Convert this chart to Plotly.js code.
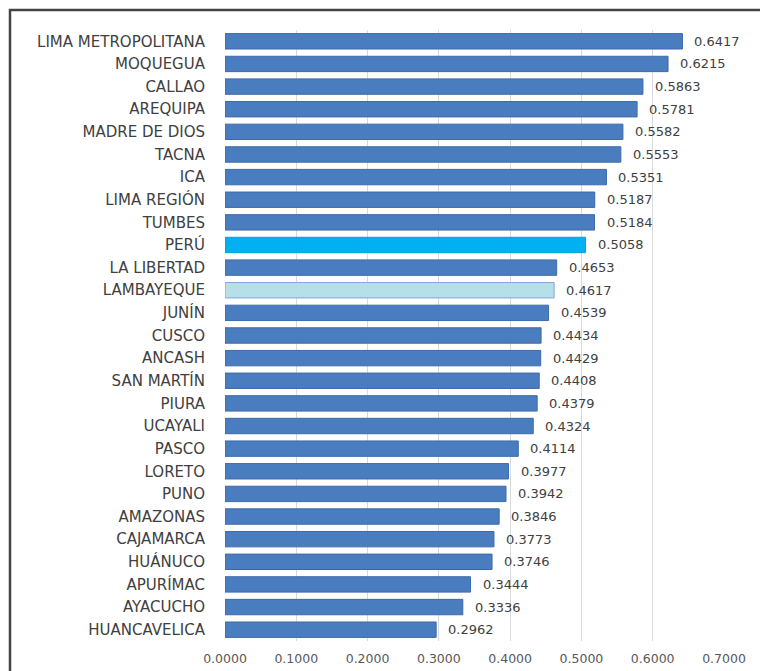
<!DOCTYPE html>
<html>
<head>
<meta charset="utf-8">
<script src="https://cdn.plot.ly/plotly-3.0.1.min.js"></script>
<style>
html,body{margin:0;padding:0;background:#fff;}
#chart{width:760px;height:671px;}
</style>
</head>
<body>
<div id="chart"></div>
<script>
const regions = ["LIMA METROPOLITANA","MOQUEGUA","CALLAO","AREQUIPA","MADRE DE DIOS","TACNA","ICA","LIMA REGIÓN","TUMBES","PERÚ","LA LIBERTAD","LAMBAYEQUE","JUNÍN","CUSCO","ANCASH","SAN MARTÍN","PIURA","UCAYALI","PASCO","LORETO","PUNO","AMAZONAS","CAJAMARCA","HUÁNUCO","APURÍMAC","AYACUCHO","HUANCAVELICA"];
const values = [0.6417,0.6215,0.5863,0.5781,0.5582,0.5553,0.5351,0.5187,0.5184,0.5058,0.4653,0.4617,0.4539,0.4434,0.4429,0.4408,0.4379,0.4324,0.4114,0.3977,0.3942,0.3846,0.3773,0.3746,0.3444,0.3336,0.2962];
const xTicks = [0,0.1,0.2,0.3,0.4,0.5,0.6,0.7];
const xTickLabels = ["0.0000","0.1000","0.2000","0.3000","0.4000","0.5000","0.6000","0.7000"];

const FONT = "'DejaVu Sans', Verdana, sans-serif";
const colors = regions.map(r => r === "PERÚ" ? "#00b0f0" : (r === "LAMBAYEQUE" ? "#b7dfea" : "#4a7dbf"));
const lineColors = regions.map(r => r === "PERÚ" ? "#00a2de" : (r === "LAMBAYEQUE" ? "#7fa9d4" : "#3d6aa8"));

const trace = {
  type: "bar",
  orientation: "h",
  y: regions,
  x: values,
  marker: {color: colors, line: {color: lineColors, width: 1}},
  hoverinfo: "none"
};

const annotations = regions.map((r, i) => ({
  x: values[i], y: r, xref: "x", yref: "y",
  text: values[i].toFixed(4),
  showarrow: false, xanchor: "left", yanchor: "middle",
  xshift: 10,
  font: {family: FONT, size: 13, color: "#404040"}
}));

const layout = {
  width: 760, height: 671,
  margin: {l: 225, r: 36, t: 30, b: 30},
  paper_bgcolor: "#ffffff",
  plot_bgcolor: "#ffffff",
  bargap: 0.32,
  showlegend: false,
  font: {family: FONT, color: "#404040"},
  xaxis: {
    range: [0, 0.7],
    tickvals: xTicks,
    ticktext: xTickLabels,
    showgrid: true,
    gridcolor: "#d9d9d9",
    gridwidth: 1,
    zeroline: false,
    showline: false,
    ticks: "",
    ticklabelstandoff: 8,
    tickfont: {family: FONT, size: 12.5, color: "#595959"},
    fixedrange: true
  },
  yaxis: {
    autorange: "reversed",
    type: "category",
    showgrid: false,
    zeroline: false,
    showline: false,
    ticks: "",
    ticklabelstandoff: 19,
    tickfont: {family: FONT, size: 15, color: "#404040"},
    fixedrange: true
  },
  annotations: annotations,
  shapes: [{
    type: "rect", xref: "paper", yref: "paper",
    x0: -215/499, x1: 560/499, y0: -60/611, y1: 1 + 20/611,
    line: {color: "#444444", width: 2.5}, fillcolor: "rgba(0,0,0,0)", layer: "above"
  }]
};

Plotly.newPlot("chart", [trace], layout, {displayModeBar: false, staticPlot: true});
</script>
</body>
</html>
